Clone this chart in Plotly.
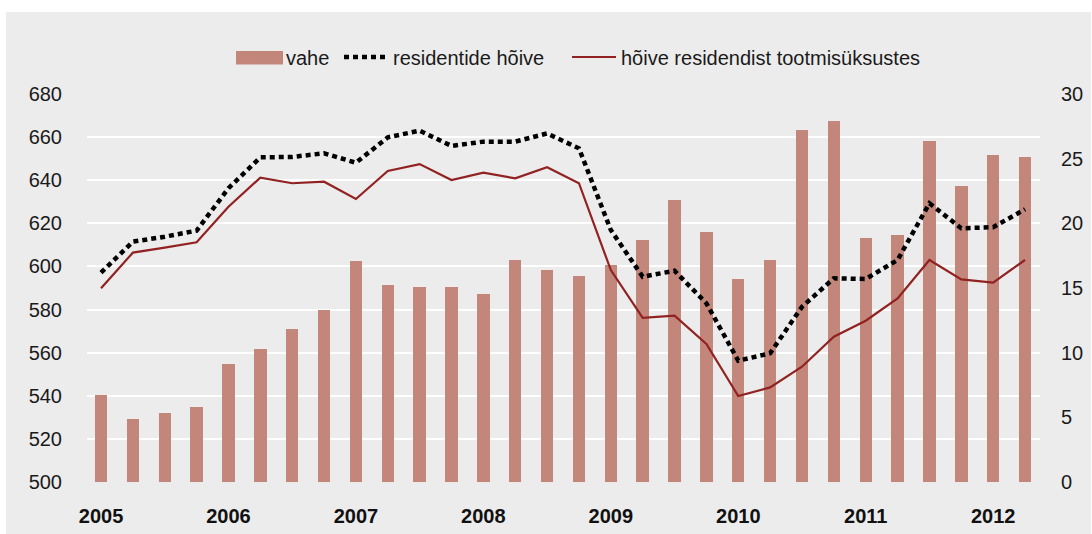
import plotly.graph_objects as go

years = ["2005", "2006", "2007", "2008", "2009", "2010", "2011", "2012"]
quarters = list(range(30))  # 2005Q1 .. 2012Q2

vahe = [6.7, 4.9, 5.3, 5.8, 9.1, 10.3, 11.8, 13.3,
        17.1, 15.2, 15.1, 15.1, 14.5, 17.2, 16.4, 15.9,
        16.8, 18.7, 21.8, 19.3, 15.7, 17.2, 27.2, 27.9,
        18.9, 19.1, 26.4, 22.9, 25.3, 25.1]

residentide_hoive = [597.1, 611.5, 613.8, 616.6, 636.3, 650.6, 650.8, 652.5,
                     648.1, 659.9, 663.0, 655.9, 657.9, 657.9, 661.7, 654.8,
                     616.9, 595.2, 598.0, 582.9, 556.3, 559.7, 581.3, 594.5,
                     594.2, 603.0, 629.3, 617.7, 618.2, 626.5]

hoive_tootmis = [589.9, 606.4, 608.7, 611.2, 627.7, 641.2, 638.6, 639.3,
                 631.3, 644.3, 647.5, 640.1, 643.5, 640.9, 646.0, 638.6,
                 598.3, 576.2, 577.2, 564.0, 539.9, 543.9, 553.5, 567.4,
                 574.8, 585.2, 603.0, 594.0, 592.5, 603.0]

left_ticks = list(range(500, 681, 20))
right_ticks = list(range(0, 31, 5))

names = ["vahe", "residentide hõive", "hõive residendist tootmisüksustes"]

FONT = "Liberation Sans, Arial, sans-serif"
FS = 20
BAR_C = "#c2877a"
RED_C = "#922222"
BG = "#ececec"

# figure geometry (page body margin removed, figure at 0,0)
W, H = 1092, 534
ML, MR, MT, MB = 87, 52, 94, 52
PW = W - ML - MR
PH = H - MT - MB


def px(x):  # page x -> paper x
    return (x - ML) / PW


def py(y):  # page y -> paper y
    return (H - MB - y) / PH


fig = go.Figure()
fig.add_trace(go.Bar(x=quarters, y=vahe, name=names[0], yaxis="y",
                     marker=dict(color=BAR_C, line=dict(width=0)),
                     width=0.39))
fig.add_trace(go.Scatter(x=quarters, y=residentide_hoive, name=names[1],
                         yaxis="y2", mode="lines",
                         line=dict(color="#000000", width=4.5, dash="5px,4px")))
fig.add_trace(go.Scatter(x=quarters, y=hoive_tootmis, name=names[2],
                         yaxis="y2", mode="lines",
                         line=dict(color=RED_C, width=2.2)))

shapes = [
    # grey panel
    dict(type="rect", xref="paper", yref="paper", layer="below",
         x0=px(6), x1=px(1091), y0=py(12), y1=py(540),
         fillcolor=BG, line=dict(width=0)),
    # legend symbols
    dict(type="rect", xref="paper", yref="paper",
         x0=px(236), x1=px(283), y0=py(64.5), y1=py(51),
         fillcolor=BAR_C, line=dict(width=0)),
    dict(type="line", xref="paper", yref="paper",
         x0=px(344), x1=px(388), y0=py(57), y1=py(57),
         line=dict(color="#000000", width=4.5, dash="5px,4px")),
    dict(type="line", xref="paper", yref="paper",
         x0=px(572), x1=px(616), y0=py(57), y1=py(57),
         line=dict(color=RED_C, width=2.2)),
]

annotations = [
    dict(xref="paper", yref="paper", x=px(284), y=py(58), text=names[0],
         showarrow=False, xanchor="left", yanchor="middle",
         font=dict(size=FS, color="#1a1a1a")),
    dict(xref="paper", yref="paper", x=px(391), y=py(58), text=names[1],
         showarrow=False, xanchor="left", yanchor="middle",
         font=dict(size=FS, color="#1a1a1a")),
    dict(xref="paper", yref="paper", x=px(619), y=py(58), text=names[2],
         showarrow=False, xanchor="left", yanchor="middle",
         font=dict(size=FS, color="#1a1a1a")),
]

fig.update_layout(
    width=W, height=H,
    margin=dict(l=ML, r=MR, t=MT, b=MB, pad=0),
    paper_bgcolor="#ffffff", plot_bgcolor="rgba(0,0,0,0)",
    font=dict(family=FONT, size=FS, color="#1a1a1a"),
    bargap=0,
    showlegend=False,
    shapes=shapes,
    annotations=annotations,
    xaxis=dict(range=[-0.44, 29.47], tickmode="array", automargin=False,
               tickvals=quarters[0::4], ticktext=["<b>%s</b>" % y for y in years],
               showgrid=False, zeroline=False, showline=False, ticks="",
               ticklabelstandoff=20, tickfont=dict(size=FS, color="#111111")),
    yaxis=dict(range=[0, 30], side="right", tickmode="array", tickvals=right_ticks,
               automargin=False,
               showgrid=False, zeroline=False, showline=False, ticks="",
               ticklabelstandoff=20, tickfont=dict(size=FS)),
    yaxis2=dict(range=[500, 680], side="left", overlaying="y", tickmode="array",
                automargin=False,
                tickvals=left_ticks, showgrid=True, gridcolor="#ffffff", gridwidth=1.5,
                zeroline=False, showline=False, ticks="", ticklabelstandoff=24,
                tickfont=dict(size=FS)),
)

fig.write_html("out.html",
               config={"displayModeBar": False},
               post_script="document.body.style.margin='0px';"
                           "document.body.style.overflow='hidden';")
